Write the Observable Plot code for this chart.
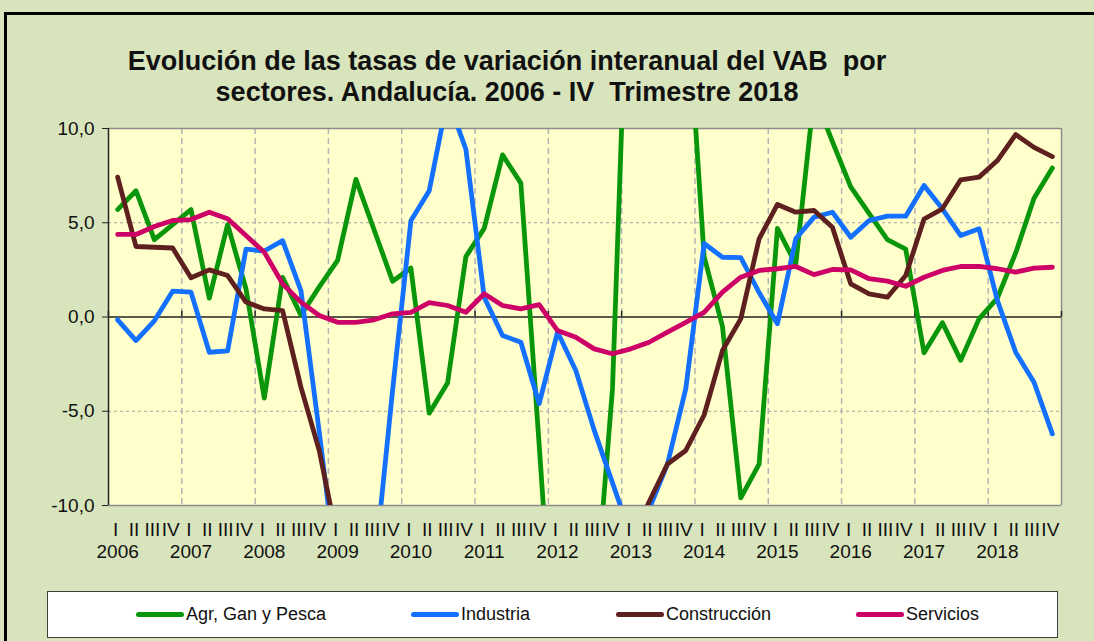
<!DOCTYPE html>
<html>
<head>
<meta charset="utf-8">
<script src="https://cdn.jsdelivr.net/npm/d3@7"></script>
<script src="https://cdn.jsdelivr.net/npm/@observablehq/plot@0.6"></script>
<style>
  html, body { margin: 0; padding: 0; }
  body { width: 1094px; height: 641px; overflow: hidden; background: #d8e4bc; position: relative;
         font-family: "Liberation Sans", Arial, sans-serif; color: #111; }
  #border { position: absolute; left: 4px; top: 12px; width: 1120px; height: 700px; border: 3px solid #000; box-sizing: border-box; }
  #title { position: absolute; left: 0; width: 1014px; top: 46px; text-align: center; font-weight: bold; font-size: 27px; line-height: 31px; color: #111; }
  #chart { position: absolute; left: 0; top: 110px; }
  #legend { position: absolute; left: 47px; top: 591px; width: 1011px; height: 47px; background: #fff; border: 1.5px solid #404040; box-sizing: border-box; }
  .item { position: absolute; top: 0; height: 44px; display: flex; align-items: center; font-size: 18px; white-space: nowrap; }
  .sw { display: inline-block; width: 48px; height: 5px; border-radius: 3px; margin-right: 2px; }
</style>
</head>
<body>
<div id="border"></div>
<div id="title">Evolución de las tasas de variación interanual del VAB&nbsp; por<br>sectores. Andalucía. 2006 - IV&nbsp; Trimestre 2018</div>
<div id="chart"></div>
<div id="legend"></div>
<script>
const years = [2006, 2007, 2008, 2009, 2010, 2011, 2012, 2013, 2014, 2015, 2016, 2017, 2018];
const quarterLabels = ["I", "II", "III", "IV"];
const yTicks = [-10, -5, 0, 5, 10];

const seriesNames = ["Agr, Gan y Pesca", "Industria", "Construcción", "Servicios"];
const seriesColors = ["#0a960a", "#1470ff", "#5e1f1f", "#cc0066"];

const agr = [5.7, 6.7, 4.1, 4.9, 5.7, 1.0, 4.9, 1.5, -4.3, 2.1, 0.1, 1.6,
             3.0, 7.3, 4.6, 1.9, 2.6, -5.1, -3.5, 3.2, 4.7, 8.6, 7.1, -6.8,
             -21, -20, -16, -3.8, 24, 26, 24, 18, 3.2, -0.5, -9.6, -7.8,
             4.7, 2.8, 11.8, 9.3, 6.9, 5.5, 4.1, 3.6, -1.9, -0.3, -2.3, -0.1,
             1.0, 3.4, 6.3, 7.9];
const industria = [-0.15, -1.25, -0.2, 1.37, 1.32, -1.87, -1.8, 3.6, 3.5, 4.05, 1.4, -6.1,
                   -14, -17, -13.5, -3.9, 5.1, 6.7, 11.6, 8.9, 1.05, -0.98, -1.34, -4.6,
                   -0.8, -2.84, -6.0, -8.8, -11.6, -10.2, -7.8, -3.8, 3.9, 3.17, 3.15, 1.3,
                   -0.36, 4.15, 5.3, 5.56, 4.23, 5.12, 5.35, 5.35, 6.98, 5.74, 4.32, 4.68,
                   0.88, -1.87, -3.46, -6.2];
const construccion = [7.42, 3.74, 3.7, 3.66, 2.08, 2.5, 2.2, 0.79, 0.43, 0.34, -3.72, -7.08,
                      -11.9, -14, -16, -17, -18, -17, -16, -15, -16, -17, -18, -20,
                      -22, -21, -19, -16, -12, -9.8, -7.8, -7.08, -5.2, -1.78, -0.1, 4.15,
                      5.97, 5.56, 5.65, 4.76, 1.76, 1.23, 1.05, 2.2, 5.2, 5.74, 7.28, 7.42,
                      8.3, 9.68, 9.0, 8.51];
const servicios = [4.38, 4.38, 4.8, 5.12, 5.17, 5.56, 5.21, 4.32, 3.44, 1.76, 0.79, 0.08,
                   -0.28, -0.28, -0.15, 0.17, 0.25, 0.76, 0.61, 0.25, 1.23, 0.61, 0.43, 0.66,
                   -0.72, -1.07, -1.69, -1.95, -1.69, -1.34, -0.8, -0.28, 0.25, 1.32, 2.11, 2.47,
                   2.56, 2.68, 2.25, 2.52, 2.5, 2.03, 1.9, 1.63, 2.11, 2.47, 2.68, 2.68,
                   2.56, 2.38, 2.59, 2.64];

const allSeries = [agr, industria, construccion, servicios];
const rows = allSeries.flatMap((vals, s) => vals.map((v, i) => ({i, v, serie: seriesNames[s]})));
const nQ = years.length * 4;
const qIdx = d3.range(nQ);
const yearStarts = years.map((y, k) => k * 4);
const boundaries = d3.range(years.length + 1).map(k => k * 4 - 0.5);
const fmt = d => d.toFixed(1).replace(".", ",");

const chart = Plot.plot({
  width: 1094,
  height: 460,
  marginLeft: 108,
  marginRight: 33,
  marginTop: 18,
  marginBottom: 65,
  style: {background: "transparent", fontFamily: "'Liberation Sans', Arial, sans-serif", color: "#111"},
  x: {domain: [-0.5, nQ - 0.5], axis: null},
  y: {domain: [-10, 10], axis: null},
  color: {domain: seriesNames, range: seriesColors},
  marks: [
    Plot.frame({fill: "#ffffcc", stroke: "none"}),
    Plot.ruleY([-5, 5], {stroke: "#a0a0a0", strokeWidth: 1, strokeDasharray: "3,3"}),
    Plot.ruleX(boundaries.slice(1, -1), {stroke: "#b4b4b4", strokeWidth: 1.5, strokeDasharray: "6,4"}),
    Plot.ruleY([10, -10], {stroke: "#8c8c8c", strokeWidth: 1.5}),
    Plot.ruleX([nQ - 0.5], {stroke: "#8c8c8c", strokeWidth: 1.5}),
    Plot.ruleY([0], {stroke: "#222", strokeWidth: 1.5}),
    Plot.ruleX(boundaries, {y1: 0, y2: 0.3, stroke: "#222", strokeWidth: 1.5}),
    Plot.line(rows, {x: "i", y: "v", z: "serie", stroke: "serie", strokeWidth: 4.8,
                     strokeLinejoin: "round", clip: true}),
    Plot.ruleX([-0.5], {stroke: "#222", strokeWidth: 1.5}),
    Plot.axisY(yTicks, {tickFormat: fmt, tickSize: 6, tickPadding: 8, fontSize: 19, label: null, stroke: "#222"}),
    Plot.axisX(qIdx, {tickFormat: i => quarterLabels[i % 4], tickSize: 0, tickPadding: 17, dx: -2, fontSize: 19, label: null}),
    Plot.axisX(yearStarts, {tickFormat: i => String(years[i / 4]), tickSize: 0, tickPadding: 39, fontSize: 19, label: null})
  ]
});
document.getElementById("chart").appendChild(chart);

const legendX = [135, 410, 615, 855];
const legend = document.getElementById("legend");
seriesNames.forEach((name, k) => {
  const it = document.createElement("div");
  it.className = "item";
  it.style.left = (legendX[k] - 47) + "px";
  const sw = document.createElement("span");
  sw.className = "sw";
  sw.style.background = seriesColors[k];
  it.appendChild(sw);
  it.appendChild(document.createTextNode(name));
  legend.appendChild(it);
});
</script>
</body>
</html>
